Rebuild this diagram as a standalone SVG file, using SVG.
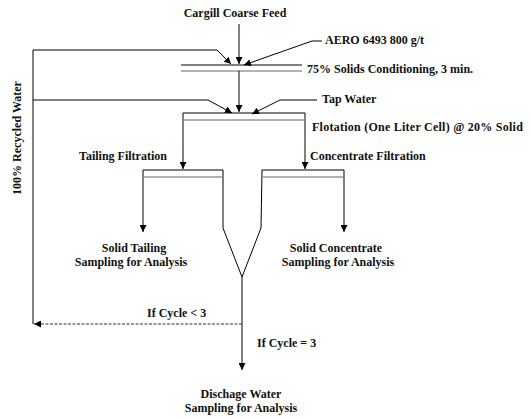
<svg xmlns="http://www.w3.org/2000/svg" width="530" height="419" viewBox="0 0 530 419">
<style>
text{font-family:"Liberation Serif","Times New Roman",serif;font-size:12px;font-weight:bold;fill:#111}
.ln{stroke:#000;stroke-width:1;fill:none}
.gr{stroke:#999;stroke-width:1.5;fill:none}
.ds{stroke:#333;stroke-width:1;fill:none;stroke-dasharray:3 1.5}
</style>
<defs>
<marker id="ah" viewBox="0 0 10 10" refX="10" refY="5" markerWidth="7" markerHeight="7" markerUnits="userSpaceOnUse" orient="auto">
<path d="M0,0 L10,5 L0,10 z" fill="#000"/>
</marker>
</defs>
<rect width="530" height="419" fill="#fff"/>
<g id="feed"><text x="235" y="17" text-anchor="middle">Cargill Coarse Feed</text></g>
<g id="aero"><text x="325" y="44">AERO 6493 800 g/t</text></g>
<g id="conditioning">
<line class="ln" x1="181" y1="65" x2="302" y2="65"/>
<line class="gr" x1="181" y1="71" x2="302" y2="71"/>
<text x="307" y="73">75% Solids Conditioning, 3 min.</text>
</g>
<g id="tapwater"><text x="322" y="103">Tap Water</text></g>
<g id="flotation">
<line class="ln" x1="183" y1="113" x2="305" y2="113"/>
<line class="gr" x1="184" y1="120" x2="304" y2="120"/>
<text x="312" y="131" letter-spacing="0.25">Flotation (One Liter Cell) @ 20% Solid</text>
</g>
<g id="tailing-filtration">
<text x="79" y="160">Tailing Filtration</text>
<line class="ln" x1="143" y1="170" x2="223" y2="170"/>
<line class="gr" x1="144" y1="177" x2="222" y2="177"/>
</g>
<g id="concentrate-filtration">
<text x="310" y="160">Concentrate Filtration</text>
<line class="ln" x1="262" y1="170" x2="344" y2="170"/>
<line class="gr" x1="263" y1="177" x2="343" y2="177"/>
</g>
<g id="solid-tailing">
<text x="134" y="252" text-anchor="middle">Solid Tailing</text>
<text x="131" y="266" text-anchor="middle">Sampling for Analysis</text>
</g>
<g id="solid-concentrate">
<text x="336" y="252" text-anchor="middle">Solid Concentrate</text>
<text x="338" y="266" text-anchor="middle">Sampling for Analysis</text>
</g>
<g id="discharge">
<text x="241" y="398" text-anchor="middle">Dischage Water</text>
<text x="241" y="412" text-anchor="middle">Sampling for Analysis</text>
</g>
<g id="recycled-label"><text transform="translate(21,138) rotate(-90)" text-anchor="middle">100% Recycled Water</text></g>
<g id="connectors">
<line class="ln" x1="239" y1="24" x2="239" y2="64" marker-end="url(#ah)"/>
<polyline class="ln" points="322,41 312,41 244,65" marker-end="url(#ah)"/>
<polyline class="ln" points="33,324 33,50 217,50 231,64" marker-end="url(#ah)"/>
<line class="ln" x1="239" y1="71" x2="239" y2="112" marker-end="url(#ah)"/>
<polyline class="ln" points="33,100 208,100 232,113" marker-end="url(#ah)"/>
<polyline class="ln" points="317,100 280,100 252,114" marker-end="url(#ah)"/>
<line class="ln" x1="183" y1="113" x2="183" y2="169" marker-end="url(#ah)"/>
<line class="ln" x1="305" y1="113" x2="305" y2="169" marker-end="url(#ah)"/>
<line class="ln" x1="143" y1="170" x2="143" y2="232" marker-end="url(#ah)"/>
<line class="ln" x1="344" y1="170" x2="344" y2="232" marker-end="url(#ah)"/>
<polyline class="ln" points="223,170 223,228 242,277 261,228 262,170"/>
<line class="ln" x1="242" y1="277" x2="242" y2="370" marker-end="url(#ah)"/>
<line class="ds" x1="242" y1="324" x2="34" y2="324" marker-end="url(#ah)"/>
<text x="147" y="317">If Cycle &lt; 3</text>
<text x="257" y="347">If Cycle = 3</text>
</g>
</svg>
